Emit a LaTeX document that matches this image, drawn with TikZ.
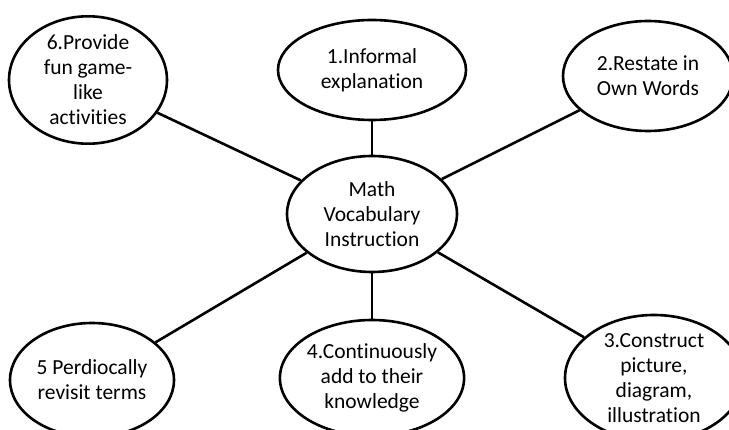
\documentclass[tikz,border=0pt]{standalone}
\usepackage{fontspec}
\setmainfont{Carlito}[Ligatures=NoCommon]
\usetikzlibrary{shapes.geometric}

\begin{document}
\begin{tikzpicture}[x=1pt,y=-1pt,
  bubble/.style={ellipse,draw,line width=2.6pt,inner sep=0pt,align=center,
    font=\fontsize{21.5}{25}\selectfont},
  spoke/.style={line width=2.6pt}]
\useasboundingbox (0,0) rectangle (729,430);
\node[bubble,minimum width=170pt,minimum height=116pt] (math) at (372,214) {Math\\Vocabulary\\Instruction};
\node[bubble,minimum width=188pt,minimum height=100pt] (s1) at (372,70) {1.Informal\\explanation};
\node[bubble,minimum width=170pt,minimum height=110pt] (s2) at (648,76) {2.Restate in\\Own Words};
\node[bubble,minimum width=178pt,minimum height=124pt] (s3) at (654,378) {3.Construct\\picture,\\diagram,\\illustration};
\node[bubble,minimum width=180pt,minimum height=116pt] (s4) at (372,378) {4.Continuously\\add to their\\knowledge};
\node[bubble,minimum width=164pt,minimum height=114pt] (s5) at (92,380) {5 Perdiocally\\revisit terms};
\node[bubble,minimum width=158pt,minimum height=114pt] (s6) at (88,80) {6.Provide\\fun game-\\like\\activities};
\foreach \s in {s1,s2,s3,s4,s5,s6}
  \draw[spoke] (math) -- (\s);
\end{tikzpicture}
\end{document}
